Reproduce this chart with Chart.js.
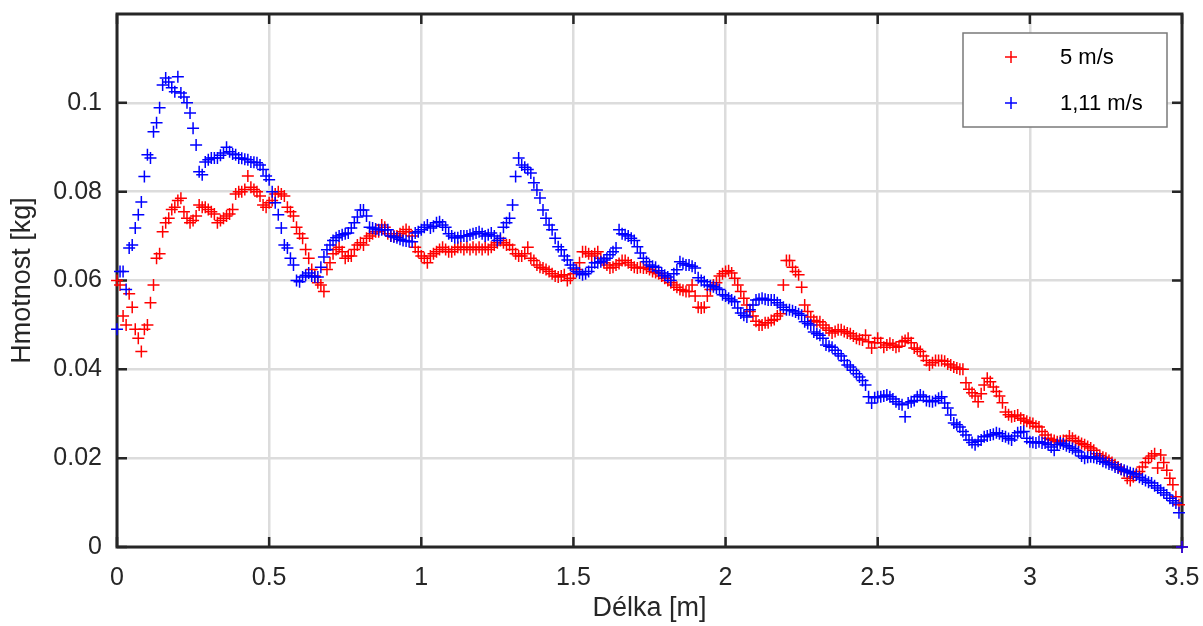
<!DOCTYPE html>
<html>
<head>
<meta charset="utf-8">
<script src="https://cdn.jsdelivr.net/npm/chart.js@4.4.0/dist/chart.umd.min.js"></script>
<style>
html,body{margin:0;padding:0;background:#fff;}
#wrap{width:1203px;height:626px;position:relative;}
</style>
</head>
<body>
<div id="wrap"><canvas id="c"></canvas></div>
<script>
// ---- data ----
const seriesNames = ['5 m/s', '1,11 m/s'];
const xTicks = [0, 0.5, 1, 1.5, 2, 2.5, 3, 3.5];
const xTickLabels = ['0', '0.5', '1', '1.5', '2', '2.5', '3', '3.5'];
const yTicks = [0, 0.02, 0.04, 0.06, 0.08, 0.1];
const yTickLabels = ['0', '0.02', '0.04', '0.06', '0.08', '0.1'];
// sampling grid: 0.00 .. 3.50 m, step 0.01 m
const lengthM = Array.from({length: 351}, (_, i) => Math.round(i) / 100);

const mass5 = [
0.060,0.059,0.052,0.050,0.057,0.054,0.049,0.047,0.044,0.049,
0.050,0.055,0.059,0.065,0.066,0.071,0.073,0.074,0.076,0.0765,
0.078,0.0785,0.0755,0.074,0.073,0.0735,0.0745,0.077,0.0765,0.0765,
0.076,0.0755,0.075,0.073,0.0735,0.074,0.0745,0.075,0.076,0.0795,
0.080,0.080,0.0805,0.0835,0.081,0.0805,0.080,0.079,0.077,0.0765,
0.0775,0.078,0.0795,0.080,0.0795,0.079,0.0765,0.0755,0.0745,0.072,
0.0705,0.0695,0.067,0.065,0.0625,0.061,0.0595,0.059,0.0575,0.0625,
0.064,0.066,0.067,0.0675,0.0665,0.065,0.0655,0.0655,0.067,0.068,
0.0685,0.068,0.0695,0.070,0.0705,0.071,0.071,0.0725,0.072,0.0705,
0.070,0.070,0.070,0.0705,0.071,0.0715,0.071,0.070,0.0675,0.0665,
0.0655,0.065,0.064,0.0655,0.066,0.0665,0.067,0.0675,0.067,0.0665,
0.0665,0.067,0.0675,0.0675,0.067,0.0675,0.067,0.0675,0.067,0.0675,
0.067,0.0675,0.067,0.0675,0.068,0.0685,0.069,0.0685,0.068,0.068,
0.067,0.066,0.0655,0.0655,0.066,0.0675,0.065,0.0645,0.0635,0.063,
0.0628,0.0625,0.062,0.0615,0.061,0.0608,0.061,0.0613,0.060,0.0605,
0.0615,0.0625,0.064,0.0665,0.0665,0.066,0.0655,0.066,0.0665,0.065,
0.064,0.0635,0.0628,0.063,0.0635,0.0638,0.0645,0.0645,0.064,0.0635,
0.063,0.0628,0.063,0.0628,0.0628,0.0625,0.062,0.0618,0.0615,0.061,
0.0605,0.060,0.0595,0.059,0.0585,0.058,0.0578,0.0575,0.0575,0.059,
0.0565,0.054,0.0538,0.054,0.0565,0.058,0.059,0.0595,0.061,0.0615,
0.062,0.0622,0.0617,0.0605,0.059,0.0575,0.056,0.0545,0.053,0.052,
0.0508,0.050,0.050,0.0505,0.0505,0.051,0.0512,0.052,0.0525,0.059,
0.0645,0.0645,0.063,0.062,0.0613,0.0585,0.0545,0.053,0.0518,0.051,
0.0507,0.0507,0.050,0.0493,0.0488,0.0482,0.0485,0.0489,0.0489,0.0485,
0.0482,0.048,0.0475,0.047,0.0468,0.0466,0.0477,0.0462,0.0448,0.046,
0.047,0.046,0.045,0.0455,0.0459,0.0455,0.045,0.0452,0.0462,0.0465,
0.047,0.046,0.0448,0.0445,0.044,0.043,0.042,0.041,0.0415,0.042,
0.042,0.042,0.0418,0.0412,0.041,0.0405,0.0403,0.040,0.040,0.037,
0.0355,0.0347,0.034,0.0327,0.0345,0.0365,0.038,0.0372,0.036,0.035,
0.034,0.0325,0.0304,0.0298,0.0293,0.0295,0.0297,0.029,0.0286,0.0283,
0.028,0.0278,0.0272,0.027,0.026,0.0252,0.0245,0.0242,0.024,0.0237,
0.0238,0.024,0.024,0.025,0.0245,0.024,0.0237,0.0233,0.023,0.0226,
0.0223,0.0218,0.021,0.0206,0.0202,0.020,0.0195,0.019,0.0185,0.018,
0.0175,0.017,0.0155,0.015,0.0158,0.0165,0.017,0.018,0.019,0.020,
0.0205,0.021,0.0178,0.0207,0.019,0.0173,0.0155,0.014,0.0113,0.0095,
0
];

const mass111 = [
0.049,0.062,0.062,0.058,0.0673,0.068,0.0718,0.0748,0.0777,0.0834,
0.0883,0.0876,0.0935,0.0955,0.0989,0.104,0.1056,0.1047,0.1034,0.1025,
0.1059,0.1022,0.1013,0.100,0.0977,0.0943,0.0905,0.0845,0.0838,0.0867,
0.0872,0.0876,0.0876,0.0876,0.0882,0.0887,0.090,0.089,0.0885,0.0883,
0.0876,0.0875,0.0873,0.0872,0.0867,0.0866,0.0865,0.086,0.085,0.0835,
0.0827,0.080,0.0775,0.0748,0.0718,0.068,0.0673,0.065,0.0635,0.060,
0.0597,0.0608,0.0612,0.0617,0.061,0.0608,0.0608,0.063,0.0653,0.0669,
0.068,0.069,0.0696,0.070,0.0703,0.0705,0.0707,0.0718,0.073,0.0743,
0.0759,0.0759,0.0745,0.072,0.0718,0.0716,0.0714,0.0714,0.0714,0.0714,
0.070,0.0698,0.0696,0.0693,0.069,0.0689,0.0688,0.0687,0.0707,0.071,
0.0714,0.072,0.0725,0.0718,0.0722,0.073,0.0732,0.0725,0.072,0.0705,
0.070,0.0696,0.0696,0.070,0.070,0.070,0.0703,0.0705,0.0707,0.071,
0.0705,0.070,0.0703,0.0707,0.070,0.069,0.0695,0.072,0.073,0.074,
0.077,0.0834,0.0876,0.086,0.0855,0.085,0.0842,0.082,0.0804,0.0786,
0.0759,0.074,0.0725,0.0714,0.0695,0.0676,0.0669,0.0655,0.0646,0.0635,
0.0628,0.062,0.0617,0.0613,0.0615,0.062,0.063,0.064,0.064,0.0642,
0.0646,0.065,0.0658,0.0665,0.0673,0.0714,0.0705,0.0703,0.070,0.0695,
0.069,0.0676,0.0662,0.065,0.0642,0.0635,0.0632,0.063,0.0622,0.0617,
0.0612,0.0608,0.060,0.0615,0.0624,0.0642,0.0638,0.0635,0.0635,0.0632,
0.0628,0.0606,0.060,0.0597,0.059,0.0588,0.0586,0.0583,0.058,0.0568,
0.0565,0.056,0.0556,0.0552,0.0538,0.0527,0.0522,0.0518,0.0534,0.0545,
0.0556,0.0558,0.056,0.0558,0.0556,0.0556,0.0556,0.055,0.0545,0.054,
0.0534,0.0534,0.0532,0.0529,0.0525,0.0522,0.0507,0.0503,0.050,0.0484,
0.048,0.0477,0.047,0.0455,0.0452,0.045,0.0443,0.0435,0.043,0.042,
0.041,0.0405,0.0398,0.039,0.0383,0.0375,0.0365,0.0338,0.0324,0.0336,
0.0338,0.0338,0.034,0.0342,0.0338,0.0333,0.0327,0.0322,0.032,0.0293,
0.0324,0.0327,0.033,0.0338,0.0342,0.0338,0.033,0.0328,0.0327,0.033,
0.0335,0.0338,0.0324,0.0313,0.0297,0.0279,0.0275,0.027,0.026,0.0252,
0.0241,0.0235,0.023,0.0238,0.0241,0.0248,0.025,0.0252,0.0254,0.0257,
0.0255,0.025,0.0248,0.0244,0.0241,0.025,0.0257,0.0259,0.026,0.0245,
0.0237,0.0236,0.0234,0.0237,0.0234,0.0234,0.023,0.0225,0.0218,0.023,
0.0234,0.0232,0.0228,0.0225,0.0222,0.0218,0.0214,0.0205,0.020,0.0202,
0.0203,0.0202,0.020,0.0198,0.0193,0.019,0.0187,0.0185,0.018,0.0178,
0.0175,0.0173,0.017,0.0167,0.0165,0.0162,0.0157,0.0153,0.015,0.0146,
0.0144,0.0138,0.0133,0.0128,0.0122,0.0117,0.011,0.0104,0.0099,0.0077,
0
];

// ---- chart ----
const FONT = "'Liberation Sans', Arial, Helvetica, sans-serif";
const AXIS_COLOR = '#262626';

const toPoints = ys => ys.map((v, i) => ({x: lengthM[i], y: v}));

const framePlugin = {
  id: 'frame',
  beforeDatasetsDraw(chart) {
    const {ctx, chartArea: a, scales: {x, y}} = chart;
    ctx.save();
    ctx.strokeStyle = AXIS_COLOR;
    ctx.lineWidth = 2.5;
    ctx.beginPath();
    xTicks.forEach(v => {
      const px = x.getPixelForValue(v);
      ctx.moveTo(px, a.bottom); ctx.lineTo(px, a.bottom - 10);
      ctx.moveTo(px, a.top); ctx.lineTo(px, a.top + 10);
    });
    yTicks.forEach(v => {
      const py = y.getPixelForValue(v);
      ctx.moveTo(a.left, py); ctx.lineTo(a.left + 10, py);
      ctx.moveTo(a.right, py); ctx.lineTo(a.right - 10, py);
    });
    ctx.stroke();
    ctx.lineWidth = 3;
    ctx.strokeRect(a.left, a.top, a.right - a.left, a.bottom - a.top);
    ctx.restore();
  }
};

const legendPlugin = {
  id: 'boxLegend',
  afterDraw(chart) {
    const {ctx} = chart;
    const bx = 963, by = 33, bw = 204, bh = 94;
    ctx.save();
    ctx.fillStyle = '#ffffff';
    ctx.fillRect(bx, by, bw, bh);
    ctx.strokeStyle = '#7a7a7a';
    ctx.lineWidth = 1.5;
    ctx.strokeRect(bx, by, bw, bh);
    ctx.font = '22px ' + FONT;
    ctx.textBaseline = 'middle';
    ctx.textAlign = 'left';
    chart.data.datasets.forEach((ds, i) => {
      const cy = by + 24 + i * 46;
      const cx = bx + 48;
      ctx.strokeStyle = ds.pointBorderColor;
      ctx.lineWidth = 1.5;
      ctx.beginPath();
      ctx.moveTo(cx - 6, cy); ctx.lineTo(cx + 6, cy);
      ctx.moveTo(cx, cy - 6); ctx.lineTo(cx, cy + 6);
      ctx.stroke();
      ctx.fillStyle = '#000';
      ctx.fillText(ds.label, bx + 97, cy + 1);
    });
    ctx.restore();
  }
};

new Chart(document.getElementById('c'), {
  type: 'scatter',
  data: {
    datasets: [
      {
        label: seriesNames[0],
        data: toPoints(mass5),
        pointStyle: 'cross',
        pointRadius: 6,
        pointHoverRadius: 6,
        pointBorderWidth: 1.5,
        pointBorderColor: '#ff0000',
        pointBackgroundColor: '#ff0000',
        showLine: false,
        clip: false,
        order: 1
      },
      {
        label: seriesNames[1],
        data: toPoints(mass111),
        pointStyle: 'cross',
        pointRadius: 6,
        pointHoverRadius: 6,
        pointBorderWidth: 1.5,
        pointBorderColor: '#0000ff',
        pointBackgroundColor: '#0000ff',
        showLine: false,
        clip: false,
        order: 0
      }
    ]
  },
  options: {
    responsive: true,
    maintainAspectRatio: false,
    animation: false,
    events: [],
    layout: {padding: {top: 14, right: 21, left: 0, bottom: 0}},
    plugins: {legend: {display: false}, tooltip: {enabled: false}},
    scales: {
      x: {
        type: 'linear',
        min: 0, max: 3.5,
        afterBuildTicks: s => { s.ticks = xTicks.map(v => ({value: v})); },
        afterFit: s => { s.height = 79; s.paddingLeft = 0; s.paddingRight = 0; },
        grid: {color: '#dcdcdc', lineWidth: 2.5, drawTicks: false},
        border: {display: false},
        ticks: {
          autoSkip: false, maxRotation: 0, padding: 16,
          color: AXIS_COLOR,
          font: {family: FONT, size: 25},
          callback: (v, i) => xTickLabels[i]
        },
        title: {
          display: true, text: 'Délka [m]', color: AXIS_COLOR,
          font: {family: FONT, size: 27, lineHeight: 1.2},
          padding: {top: 0, bottom: 1}
        }
      },
      y: {
        type: 'linear',
        min: 0, max: 0.12,
        afterBuildTicks: s => { s.ticks = yTicks.map(v => ({value: v})); },
        afterFit: s => { s.width = 117; s.paddingTop = 0; s.paddingBottom = 0; },
        grid: {color: '#dcdcdc', lineWidth: 2.5, drawTicks: false},
        border: {display: false},
        ticks: {
          autoSkip: false, padding: 15,
          color: AXIS_COLOR,
          font: {family: FONT, size: 25},
          callback: (v, i) => yTickLabels[i]
        },
        title: {
          display: true, text: 'Hmotnost [kg]', color: AXIS_COLOR,
          font: {family: FONT, size: 27, lineHeight: 1.2},
          padding: {top: 6, bottom: 0}
        }
      }
    }
  },
  plugins: [framePlugin, legendPlugin]
});
</script>
</body>
</html>
